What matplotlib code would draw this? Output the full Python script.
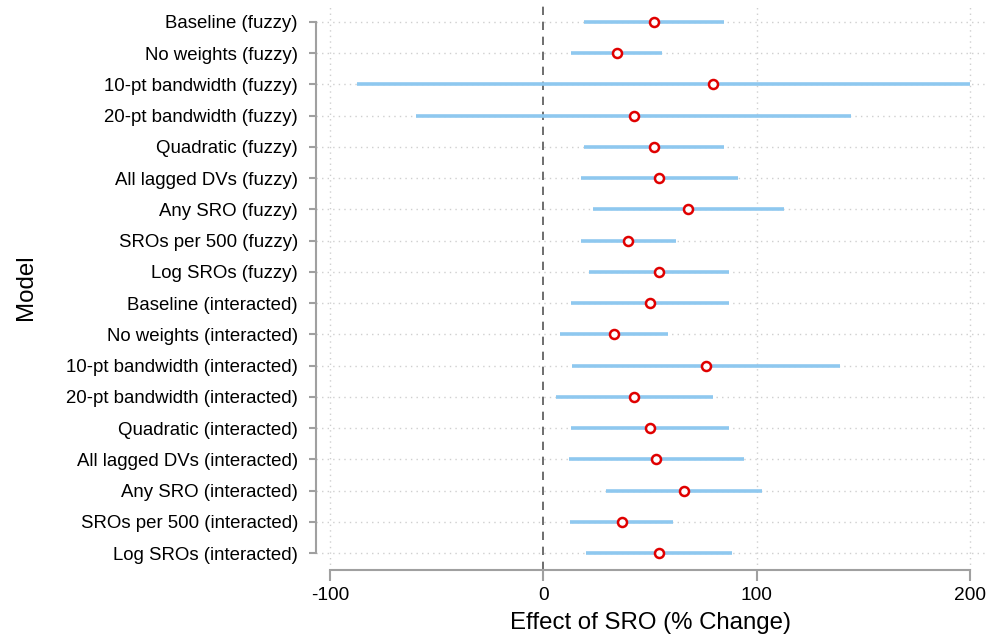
import matplotlib
matplotlib.use("Agg")
import matplotlib.pyplot as plt

models = [
    "Baseline (fuzzy)", "No weights (fuzzy)", "10-pt bandwidth (fuzzy)",
    "20-pt bandwidth (fuzzy)", "Quadratic (fuzzy)", "All lagged DVs (fuzzy)",
    "Any SRO (fuzzy)", "SROs per 500 (fuzzy)", "Log SROs (fuzzy)",
    "Baseline (interacted)", "No weights (interacted)", "10-pt bandwidth (interacted)",
    "20-pt bandwidth (interacted)", "Quadratic (interacted)", "All lagged DVs (interacted)",
    "Any SRO (interacted)", "SROs per 500 (interacted)", "Log SROs (interacted)",
]
estimate = [51.9, 34.3, 79.5, 42.4, 51.9, 54.3, 68.0, 39.5, 54.3,
            50.0, 33.3, 76.4, 42.6, 50.0, 52.9, 66.1, 36.8, 54.1]
ci_low = [19.2, 13.0, -87.2, -59.9, 19.2, 17.8, 23.1, 17.8, 21.3,
          12.8, 7.6, 13.6, 5.8, 12.8, 12.2, 29.3, 12.4, 19.8]
ci_high = [84.7, 55.4, 200.0, 144.0, 84.7, 91.3, 112.8, 62.0, 87.2,
           87.2, 58.5, 139.0, 79.5, 87.2, 93.8, 102.7, 60.7, 88.4]
xticks = [-100, 0, 100, 200]

plt.rcParams["font.family"] = ["Liberation Sans", "DejaVu Sans"]

W, H = 990, 640
fig = plt.figure(figsize=(W / 100, H / 100), dpi=100)
ax = fig.add_axes([316 / W, 1 - 570 / H, (985 - 316) / W, (570 - 5) / H])

ypos = list(range(len(models)))
grey = "#a0a0a0"

# grid
for y in ypos:
    ax.axhline(y, color="#cfcfcf", lw=1, ls=(0, (1, 3)), zorder=0)
for x in xticks:
    if x != 0:
        ax.axvline(x, color="#cfcfcf", lw=1, ls=(0, (1, 3)), zorder=0)
ax.axvline(0, color="#555555", lw=1.2, ls=(0, (5, 4)), zorder=1)

ax.hlines(ypos, ci_low, ci_high, color="#8ec8ef", lw=2.6, zorder=2)
ax.plot(estimate, ypos, "o", ms=6.5, mfc="white", mec="#e00000", mew=1.8, zorder=3)

ax.set_xlim(-106.6, 207)
ax.set_ylim(len(models) - 1 + 0.544, -0.544)
ax.set_yticks(ypos)
ax.set_yticklabels(models, fontsize=13.4)
ax.set_xticks(xticks)
ax.set_xticklabels([str(v) for v in xticks], fontsize=13.8)

for s in ["top", "right"]:
    ax.spines[s].set_visible(False)
ax.spines["left"].set_bounds(0, len(models) - 1)
ax.spines["bottom"].set_bounds(-100, 200)
for s in ["left", "bottom"]:
    ax.spines[s].set_color(grey)
    ax.spines[s].set_linewidth(1.5)
ax.tick_params(axis="y", color=grey, width=1.5, length=5, pad=8)
ax.tick_params(axis="x", color=grey, width=1.5, length=8, pad=4)

ax.set_xlabel("Effect of SRO (% Change)", fontsize=17.3, labelpad=6)
ax.set_ylabel("Model", fontsize=17.3)
ax.yaxis.set_label_coords(-0.417, 0.5)

fig.savefig("out.png", dpi=100)
